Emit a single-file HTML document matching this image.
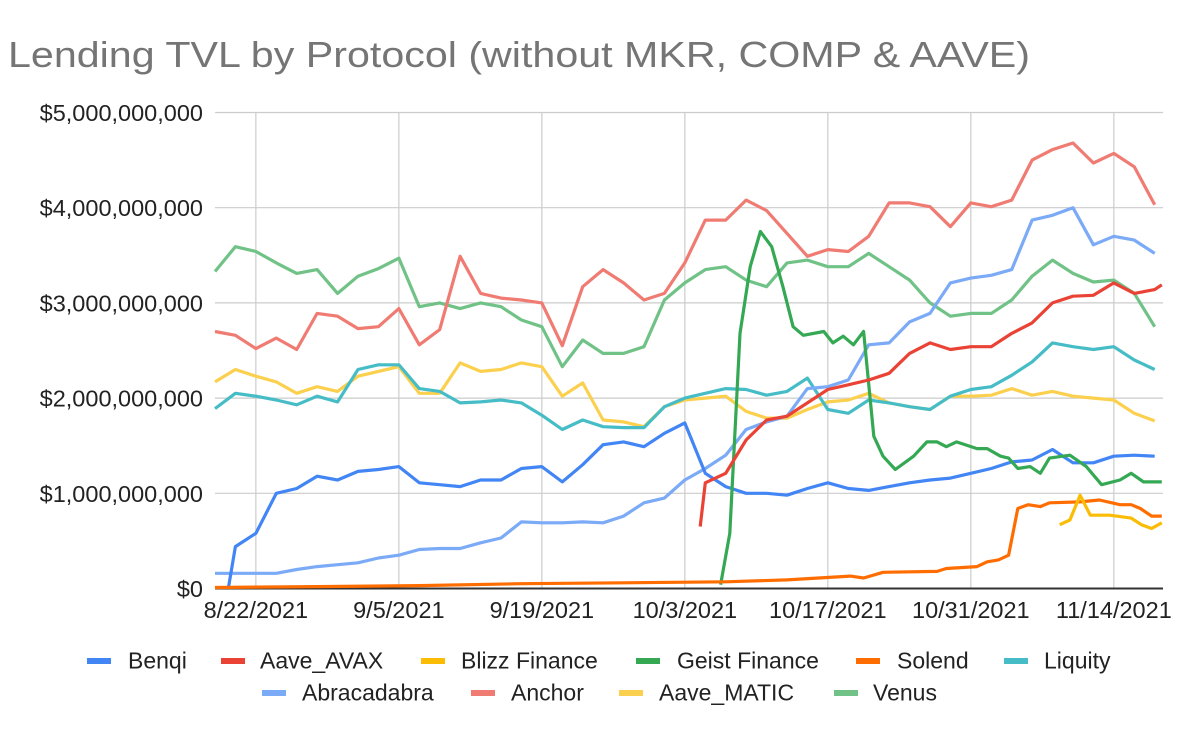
<!DOCTYPE html>
<html><head><meta charset="utf-8"><style>
body{margin:0;background:#fff;}
svg{display:block;font-family:"Liberation Sans",Arial,sans-serif;}
</style></head><body>
<svg id="chart" width="1200" height="742" viewBox="0 0 1200 742" xmlns="http://www.w3.org/2000/svg">
<rect width="1200" height="742" fill="#fff"/>
<text x="8" y="67" font-size="36" fill="#757575" textLength="1022" lengthAdjust="spacingAndGlyphs">Lending TVL by Protocol (without MKR, COMP &amp; AAVE)</text>
<g id="grid"></g><g id="series"></g><g id="legend"></g>
</svg>
<script>
const yTicks=[0,1,2,3,4,5];
const yTickLabels=["$0","$1,000,000,000","$2,000,000,000","$3,000,000,000","$4,000,000,000","$5,000,000,000"];
const xTickDays=[4,18,32,46,60,74,88];
const xTickLabels=["8/22/2021","9/5/2021","9/19/2021","10/3/2021","10/17/2021","10/31/2021","11/14/2021"];
const commonDays=[0,2,4,6,8,10,12,14,16,18,20,22,24,26,28,30,32,34,36,38,40,42,44,46,48,50,52,54,56,58,60,62,64,66,68,70,72,74,76,78,80,82,84,86,88,90,92];
const benqiDays=[1.3,2,4,6,8,10,12,14,16,18,20,22,24,26,28,30,32,34,36,38,40,42,44,46,48,50,52,54,56,58,60,62,64,66,68,70,72,74,76,78,80,82,84,86,88,90,92];
const benqi=[0,0.44,0.58,1.00,1.05,1.18,1.14,1.23,1.25,1.28,1.11,1.09,1.07,1.14,1.14,1.26,1.28,1.12,1.30,1.51,1.54,1.49,1.63,1.74,1.21,1.07,1.00,1.00,0.98,1.05,1.11,1.05,1.03,1.07,1.11,1.14,1.16,1.21,1.26,1.33,1.35,1.46,1.32,1.32,1.39,1.40,1.39];
const avaxDays=[47.5,48,50,52,54,56,58,60,62,64,66,68,70,72,74,76,78,80,82,84,86,88,90,92,92.7];
const aaveAvax=[0.65,1.11,1.21,1.56,1.77,1.81,1.95,2.09,2.14,2.19,2.26,2.47,2.58,2.51,2.54,2.54,2.68,2.79,3.00,3.07,3.08,3.21,3.10,3.14,3.19];
const blizzDays=[82.7,83.7,84.7,85.7,87.6,89.7,90.7,91.7,92.7];
const blizz=[0.67,0.72,0.98,0.77,0.77,0.74,0.67,0.63,0.69];
const geistDays=[49.5,50.4,51.4,52.4,53.4,54.5,55.6,56.6,57.6,59.6,60.5,61.5,62.5,63.5,64.5,65.4,66.6,68.4,69.7,70.7,71.6,72.6,74.6,75.6,76.9,77.7,78.6,79.8,80.8,81.7,83.7,85.3,86.8,88.6,89.7,90.9,92.7];
const geist=[0.04,0.58,2.68,3.38,3.75,3.59,3.17,2.75,2.66,2.70,2.58,2.65,2.56,2.70,1.60,1.39,1.25,1.39,1.54,1.54,1.49,1.54,1.47,1.47,1.39,1.37,1.26,1.28,1.21,1.37,1.40,1.28,1.09,1.14,1.21,1.12,1.12];
const solendDays=[0,10,20,30,40,50,56,62.2,63.5,65.4,70.7,71.6,74.6,75.6,76.7,77.7,78.6,79.6,80.8,81.7,84.7,86.6,88.6,89.7,90.6,91.7,92.7];
const solend=[0.01,0.02,0.03,0.05,0.06,0.07,0.09,0.13,0.11,0.17,0.18,0.21,0.23,0.28,0.30,0.35,0.84,0.88,0.86,0.90,0.91,0.93,0.88,0.88,0.84,0.76,0.76];
const liquity=[1.89,2.05,2.02,1.98,1.93,2.02,1.96,2.30,2.35,2.35,2.10,2.07,1.95,1.96,1.98,1.95,1.82,1.67,1.77,1.70,1.69,1.69,1.91,2.00,2.05,2.10,2.09,2.03,2.07,2.21,1.88,1.84,1.98,1.95,1.91,1.88,2.02,2.09,2.12,2.24,2.38,2.58,2.54,2.51,2.54,2.40,2.30];
const abracadabra=[0.16,0.16,0.16,0.16,0.20,0.23,0.25,0.27,0.32,0.35,0.41,0.42,0.42,0.48,0.53,0.70,0.69,0.69,0.70,0.69,0.76,0.90,0.95,1.14,1.26,1.40,1.67,1.75,1.81,2.10,2.12,2.19,2.56,2.58,2.80,2.89,3.21,3.26,3.29,3.35,3.87,3.92,4.00,3.61,3.70,3.66,3.52];
const anchor=[2.70,2.66,2.52,2.63,2.51,2.89,2.86,2.73,2.75,2.94,2.56,2.72,3.49,3.10,3.05,3.03,3.00,2.55,3.17,3.35,3.21,3.03,3.10,3.42,3.87,3.87,4.08,3.97,3.73,3.49,3.56,3.54,3.70,4.05,4.05,4.01,3.80,4.05,4.01,4.08,4.50,4.61,4.68,4.47,4.57,4.43,4.03];
const aaveMatic=[2.17,2.30,2.23,2.17,2.05,2.12,2.07,2.23,2.28,2.33,2.05,2.05,2.37,2.28,2.30,2.37,2.33,2.02,2.16,1.77,1.75,1.70,1.91,1.98,2.00,2.02,1.86,1.79,1.79,1.88,1.96,1.98,2.05,1.95,1.91,1.88,2.02,2.02,2.03,2.10,2.03,2.07,2.02,2.00,1.98,1.84,1.76];
const venus=[3.33,3.59,3.54,3.42,3.31,3.35,3.10,3.28,3.36,3.47,2.96,3.00,2.94,3.00,2.96,2.82,2.75,2.33,2.61,2.47,2.47,2.54,3.03,3.21,3.35,3.38,3.24,3.17,3.42,3.45,3.38,3.38,3.52,3.38,3.24,3.00,2.86,2.89,2.89,3.03,3.28,3.45,3.31,3.22,3.24,3.10,2.75];
const seriesNames=["Benqi","Aave_AVAX","Blizz Finance","Geist Finance","Solend","Liquity","Abracadabra","Anchor","Aave_MATIC","Venus"];
const seriesColors=["#4285f4","#ea4335","#fbbc04","#34a853","#ff6d01","#46bdc6","#7baaf7","#f07b72","#fcd04f","#71c287"];

const NS="http://www.w3.org/2000/svg";
const X0=215,PXD=10.214,Y0=588.5,PXB=95.2,XR=1163;
function xs(d){return X0+d*PXD;}
function ys(v){return Y0-v*PXB;}
function mk(t,a,p){const e=document.createElementNS(NS,t);for(const k in a)e.setAttribute(k,a[k]);p.appendChild(e);return e;}
const grid=document.getElementById('grid');
yTicks.forEach((v,i)=>{
  if(v>0){const l=mk('line',{x1:X0,x2:XR,y1:ys(v),y2:ys(v),stroke:'#cccccc','stroke-width':1.2},grid);
  
  }
  const t=mk('text',{x:203,y:ys(v)+8.5,'font-size':23.5,'text-anchor':'end',fill:'#222'},grid);
  t.textContent=yTickLabels[i];
  
  
});
xTickDays.forEach((d,i)=>{
  const l=mk('line',{x1:xs(d),x2:xs(d),y1:ys(5),y2:Y0,stroke:'#cccccc','stroke-width':1.2},grid);
  
  
  const t=mk('text',{x:xs(d),y:618,'font-size':23.5,'text-anchor':'middle',fill:'#222'},grid);
  t.textContent=xTickLabels[i];
  
  
});
const ax=mk('line',{x1:X0,x2:XR,y1:Y0,y2:Y0,stroke:'#333','stroke-width':2},grid);



const seriesData=[[benqiDays,benqi],[avaxDays,aaveAvax],[blizzDays,blizz],[geistDays,geist],[solendDays,solend],[commonDays,liquity],[commonDays,abracadabra],[commonDays,anchor],[commonDays,aaveMatic],[commonDays,venus]];
const drawOrder=[9,7,8,5,6,0,3,1,4,2];
const sg=document.getElementById('series');
drawOrder.forEach(i=>{
  const [ds,vs]=seriesData[i];
  let p='';
  vs.forEach((v,j)=>{p+=(j?'L':'M')+Math.min(xs(ds[j]),XR).toFixed(1)+','+ys(v).toFixed(1);});
  const path=mk('path',{d:p,fill:'none',stroke:seriesColors[i],'stroke-width':3.2,'stroke-linejoin':'round'},sg);
  
  
});

const legendPos=[[87,128,661],[221,260,661],[421,461,661],[636,677,661],[856,897,661],[1004,1044,661],[262,302,693],[471,511,693],[619,659,693],[834,873,693]];
const lg=document.getElementById('legend');
seriesNames.forEach((n,i)=>{
  const [mx,tx,cy]=legendPos[i];
  const g=mk('g',{},lg);
  
  
  mk('rect',{x:mx,y:cy-3,width:24,height:6,fill:seriesColors[i]},g);
  const t=mk('text',{x:tx,y:cy+7.5,'font-size':23,fill:'#222'},g);
  t.textContent=n;
});
</script>
</body></html>
